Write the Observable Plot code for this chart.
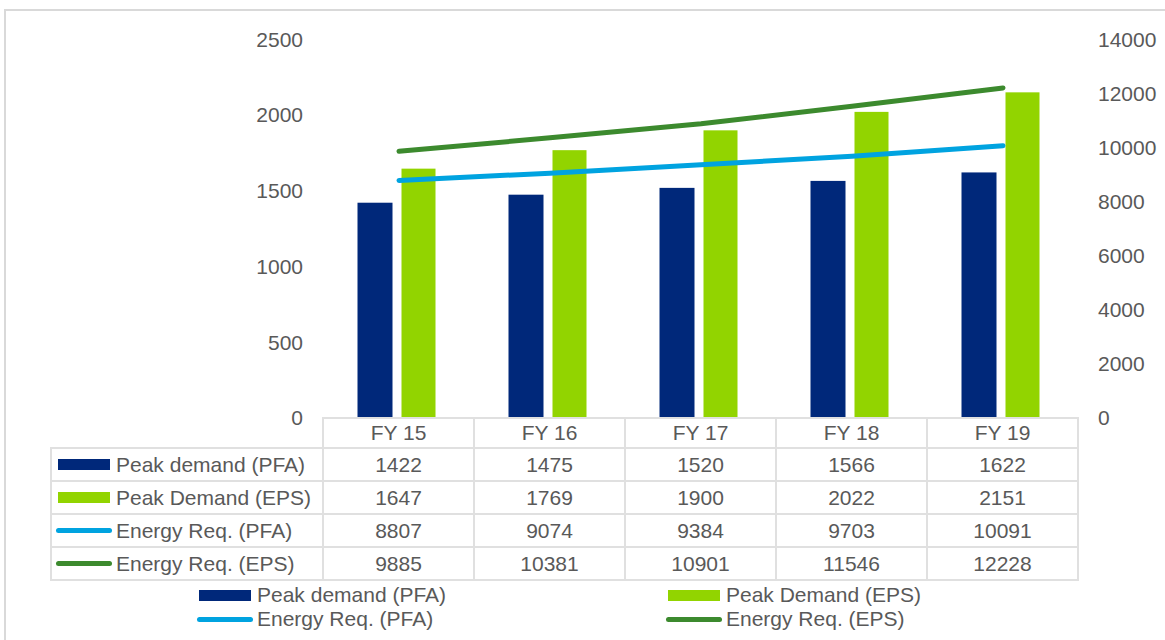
<!DOCTYPE html>
<html>
<head>
<meta charset="utf-8">
<script src="https://cdn.jsdelivr.net/npm/d3@7"></script>
<script src="https://cdn.jsdelivr.net/npm/@observablehq/plot@0.6"></script>
<style>
  html, body { margin: 0; padding: 0; background: #fff; }
  #wrap { position: relative; width: 1165px; height: 640px; overflow: hidden;
          font-family: "Liberation Sans", Arial, sans-serif; color: #595959; font-size: 21px; }
  #frame { position: absolute; left: 4px; top: 9px; width: 1300px; height: 800px;
           border-left: 2px solid #d9d9d9; border-top: 2px solid #d9d9d9; }
  #chart { position: absolute; left: 0; top: 0; }
  table.data { position: absolute; left: 50px; top: 417px; border-collapse: collapse; table-layout: fixed; }
  table.data td { border: 2px solid #e0e0e0; padding: 0; text-align: center; white-space: nowrap; }
  table.data tr.head td { height: 28px; }
  table.data tr.row td { height: 31px; }
  table.data td.blank { border-top: none; border-left: none; }
  table.data td.label { text-align: left; }
  .lab { display: flex; align-items: center; }
  .key-bar { width: 52px; height: 11px; margin-left: 6px; margin-right: 6px; flex: none; }
  .key-line { width: 56px; height: 5px; border-radius: 3px; margin-left: 4px; margin-right: 4px; flex: none; }
  .leg { position: absolute; display: flex; align-items: center; height: 24px; white-space: nowrap; }
  .leg .key-bar, .leg .key-line { margin-left: 0; }
</style>
</head>
<body>
<div id="wrap">
  <div id="frame"></div>
  <div id="chart"></div>
</div>
<script>
// Fiscal years and series
const years = ["FY 15", "FY 16", "FY 17", "FY 18", "FY 19"];
const peakPFA = [1422, 1475, 1520, 1566, 1622];
const peakEPS = [1647, 1769, 1900, 2022, 2151];
const energyPFA = [8807, 9074, 9384, 9703, 10091];
const energyEPS = [9885, 10381, 10901, 11546, 12228];

const seriesNames = ["Peak demand (PFA)", "Peak Demand (EPS)", "Energy Req. (PFA)", "Energy Req. (EPS)"];
const seriesColors = ["#00287a", "#92d400", "#00a3e0", "#3c8a2e"];
const seriesKinds = ["bar", "bar", "line", "line"];
const seriesValues = [peakPFA, peakEPS, energyPFA, energyEPS];

const leftTicks = [0, 500, 1000, 1500, 2000, 2500];
const rightTicks = [0, 2000, 4000, 6000, 8000, 10000, 12000, 14000];

// secondary axis (energy) is mapped onto the primary (peak demand) scale
const leftMax = 2500, rightMax = 14000;
const k = leftMax / rightMax;

const rows = (vals, name) => years.map((year, i) => ({year, value: vals[i], name}));
const barPFA = rows(peakPFA, seriesNames[0]);
const barEPS = rows(peakEPS, seriesNames[1]);
const linePFA = rows(energyPFA, seriesNames[2]);
const lineEPS = rows(energyEPS, seriesNames[3]);

const chart = Plot.plot({
  width: 1165,
  height: 440,
  marginLeft: 322.5,
  marginRight: 87.5,
  marginTop: 39.5,
  marginBottom: 22,
  style: {fontFamily: "'Liberation Sans', Arial, sans-serif", fontSize: "21px", color: "#595959", background: "transparent", overflow: "visible"},
  x: {type: "band", domain: years, padding: 0, axis: null},
  y: {domain: [0, leftMax], axis: null},
  marks: [
    Plot.barY(barPFA, {x: "year", y: "value", fill: seriesColors[0], insetLeft: 34.5, insetRight: 81.5}),
    Plot.barY(barEPS, {x: "year", y: "value", fill: seriesColors[1], insetLeft: 78.5, insetRight: 38.5}),
    Plot.line(linePFA, {x: "year", y: d => d.value * k, stroke: seriesColors[2], strokeWidth: 5, strokeLinecap: "round"}),
    Plot.line(lineEPS, {x: "year", y: d => d.value * k, stroke: seriesColors[3], strokeWidth: 5, strokeLinecap: "round"}),
    Plot.axisY(leftTicks, {anchor: "left", label: null, tickSize: 0, tickPadding: 20, fontSize: 21, fill: "#595959",
      tickFormat: d => String(d)}),
    Plot.axisY(rightTicks.map(v => v * k), {anchor: "right", label: null, tickSize: 0, tickPadding: 20, fontSize: 21, fill: "#595959",
      tickFormat: d => String(Math.round(d / k))})
  ]
});
document.getElementById("chart").appendChild(chart);

// data table below the plot
const wrap = d3.select("#wrap");
const table = wrap.append("table").attr("class", "data");
const colgroup = table.append("colgroup");
colgroup.append("col").style("width", "272px");
years.forEach(() => colgroup.append("col").style("width", "151px"));

const head = table.append("tr").attr("class", "head");
head.append("td").attr("class", "blank");
years.forEach(y => head.append("td").text(y));

seriesNames.forEach((name, s) => {
  const tr = table.append("tr").attr("class", "row");
  const lab = tr.append("td").attr("class", "label").append("div").attr("class", "lab");
  lab.append("div").attr("class", seriesKinds[s] === "bar" ? "key-bar" : "key-line").style("background", seriesColors[s]);
  lab.append("span").text(name);
  seriesValues[s].forEach(v => tr.append("td").text(v));
});

// legend
const legX = [199, 668, 197, 666];
const legY = [583, 583, 607, 607];
seriesNames.forEach((name, s) => {
  const item = wrap.append("div").attr("class", "leg").style("left", legX[s] + "px").style("top", legY[s] + "px");
  item.append("div").attr("class", seriesKinds[s] === "bar" ? "key-bar" : "key-line")
    .style("background", seriesColors[s]).style("margin-right", seriesKinds[s] === "bar" ? "6px" : "4px");
  item.append("span").text(name);
});
</script>
</body>
</html>
